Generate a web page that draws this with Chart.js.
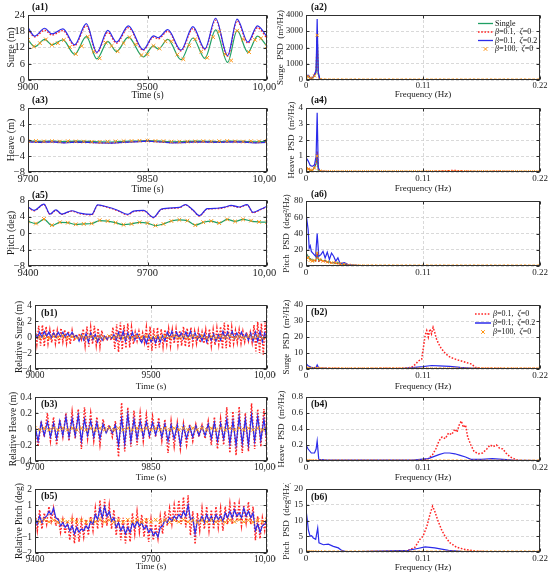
<!DOCTYPE html>
<html><head><meta charset="utf-8">
<script src="https://cdn.jsdelivr.net/npm/chart.js"></script>
<style>
html,body{margin:0;padding:0;background:#fff;}
#wrap{position:relative;width:550px;height:578px;overflow:hidden;background:#fff;}
canvas{position:absolute;}
</style></head><body><div id="wrap"></div>
<script>
// ---------------- tick values / labels ----------------
const tA1X=[9000,9500,10000], lA1X=['9000','9500','10,000'];
const tA3X=[9700,9850,10000], lA3X=['9700','9850','10,000'];
const tA5X=[9400,9700,10000], lA5X=['9400','9700','10,000'];
const tFX=[0,0.11,0.22], lFX=['0','0.11','0.22'];
const tA1Y=[0,6,12,18,24], lA1Y=['0','6','12','18','24'];
const tA3Y=[-8,-4,0,4,8], lA3Y=['\u22128','\u22124','0','4','8'];
const tA2Y=[0,1000,2000,3000,4000], lA2Y=['0','1000','2000','3000','4000'];
const tA4Y=[0,1,2,3,4], lA4Y=['0','1','2','3','4'];
const tA6Y=[0,20,40,60,80], lA6Y=['0','20','40','60','80'];
const tB1Y=[-4,-2,0,2,4], lB1Y=['\u22124','\u22122','0','2','4'];
const tB3Y=[-0.4,-0.2,0,0.2,0.4], lB3Y=['\u22120.4','\u22120.2','0','0.2','0.4'];
const tB5Y=[-2,-1,0,1,2], lB5Y=['\u22122','\u22121','0','1','2'];
const tB2Y=[0,10,20,30,40], lB2Y=['0','10','20','30','40'];
const tB4Y=[0,0.2,0.4,0.6,0.8], lB4Y=['0','0.2','0.4','0.6','0.8'];
const tB6Y=[0,5,10,15,20], lB6Y=['0','5','10','15','20'];

const legendAll=['Single','\u03b2=0.1,  \u03b6=0','\u03b2=0.1,  \u03b6=0.2','\u03b2=100,  \u03b6=0'];

// ---------------- (a1) surge ----------------
const a1T=[9000,9028,9070,9100,9146,9195,9244,9288,9334,9370,9420,9482,9525,9545,9585,9640,9690,9740,9785,9835,9875,9920,9960,10000];
const a1Blue=[19.3,16.2,19.1,17.0,18.9,13.0,20.8,10.2,18.3,14.0,20.0,11.2,16.3,15.6,18.6,11.0,19.7,11.5,22.8,9.0,22.5,14.0,20.0,16.0];
const a1Red=[18.7,15.9,18.4,16.6,18.2,12.7,20.0,10.0,17.6,13.6,19.3,11.0,15.8,15.2,18.0,10.7,19.0,11.2,22.1,8.8,21.8,13.6,19.3,15.4];
const a1Green=[14.8,12.3,15.0,13.0,14.8,9.5,16.0,7.8,14.2,10.5,15.8,8.5,12.6,11.4,15.0,7.5,15.5,8.0,18.5,6.5,18.2,10.2,16.2,12.5];
const a1OrangeStart=9000, a1OrangeStep=25;
const a1Orange=[14.8,12.4,13.6,15.0,13.0,13.6,14.8,12.2,9.6,12.5,16.0,10.5,8.0,13.8,12.6,10.6,13.6,15.8,13.2,9.2,9.5,12.6,11.6,14.3,14.3,9.4,7.7,12.8,15.1,10.5,8.2,15.8,17.9,9.5,7.2,18.2,15.0,10.3,14.8,15.4,12.5];

// ---------------- (a3) heave ----------------
const a3Start=9700, a3Step=15;
const a3Blue=[-0.5,-0.6,-0.45,-0.7,-0.55,-0.6,-0.75,-0.8,-0.6,-0.45,-0.3,-0.5,-0.7,-0.65,-0.5,-0.55,-0.6,-0.45,-0.55,-0.7,-0.6];
const a3Red=[-0.45,-0.55,-0.4,-0.65,-0.5,-0.55,-0.7,-0.75,-0.55,-0.4,-0.25,-0.45,-0.65,-0.6,-0.45,-0.5,-0.55,-0.4,-0.5,-0.65,-0.55];
const a3Green=[-0.3,-0.35,-0.25,-0.4,-0.3,-0.35,-0.45,-0.5,-0.35,-0.25,-0.15,-0.3,-0.45,-0.4,-0.3,-0.35,-0.4,-0.25,-0.35,-0.45,-0.35];
const a3OrangeStep=10;
const a3Orange=[-0.3,-0.25,-0.35,-0.3,-0.4,-0.3,-0.35,-0.4,-0.45,-0.5,-0.4,-0.35,-0.3,-0.25,-0.2,-0.15,-0.25,-0.3,-0.4,-0.45,-0.4,-0.35,-0.3,-0.35,-0.3,-0.25,-0.35,-0.4,-0.3,-0.35,-0.3];

// ---------------- (a5) pitch ----------------
const a5BlueT=[9400,9415,9440,9455,9470,9485,9510,9530,9560,9575,9600,9625,9650,9665,9690,9715,9735,9780,9795,9815,9830,9850,9875,9895,9910,9930,9950,9965,9985,10000];
const a5Blue=[6.3,5.5,7.0,4.6,5.6,4.6,5.4,4.8,4.5,6.8,6.3,5.5,4.5,5.3,5.5,3.8,5.8,6.2,6.9,5.5,4.2,5.9,6.0,6.3,6.7,6.3,6.9,5.0,5.8,6.5];
const a5Red=[6.2,5.4,6.9,4.5,5.5,4.5,5.3,4.7,4.4,6.7,6.2,5.4,4.4,5.2,5.4,3.7,5.7,6.1,6.8,5.4,4.1,5.8,5.9,6.2,6.6,6.2,6.8,4.9,5.7,6.4];
const a5Start=9400, a5Step=20;
const a5Green=[2.8,2.3,3.3,1.8,2.6,2.5,2.1,2.2,2.3,3.0,2.9,2.5,2.0,2.2,2.6,2.4,1.8,2.2,2.9,3.2,3.0,1.9,2.6,2.9,2.4,3.3,2.8,3.3,2.9,2.7,2.6];
const a5Orange=[2.8,2.3,3.4,1.9,2.6,2.5,2.1,2.2,2.3,3.1,2.9,2.5,2.0,2.2,2.6,2.4,1.8,2.2,2.9,3.2,3.0,1.9,2.6,2.9,2.4,3.3,2.8,3.3,3.0,2.7,2.6];

// ---------------- PSD marker frequencies (orange) ----------------
const freqMarks=[0,0.002,0.004,0.006,0.008,0.0105,0.013,0.016,0.02,0.024,0.028,0.032,0.036,0.04,0.044,0.048,0.052,0.056,0.06,0.064,0.068,0.072,0.076,0.08,0.084,0.088,0.092,0.096,0.1,0.104,0.108,0.112,0.116,0.12,0.124,0.128,0.132,0.136,0.14,0.144,0.148,0.152,0.156,0.16,0.164,0.168,0.172,0.176,0.18,0.184,0.188,0.192,0.196,0.2,0.204,0.208,0.212,0.216,0.22];

// ---------------- (a2) surge PSD ----------------
const a2F=[0,0.002,0.004,0.006,0.008,0.0095,0.0105,0.0115,0.013,0.015,0.02,0.05,0.1,0.15,0.22];
const a2Blue=[250,300,150,100,350,600,3750,500,50,20,5,2,1,1,0];
const a2Red=[200,250,120,80,300,500,2850,400,40,15,5,2,1,1,0];
const a2Green=[180,220,100,70,280,450,2800,380,30,10,4,2,1,1,0];
const a2Orange=[150,220,120,90,260,2750,30,10,5,3,2,1,1,0,0,0,0,0,0,0,0,0,0,0,0,0,0,0,0,0,0,0,0,0,0,0,0,0,0,0,0,0,0,0,0,0,0,0,0,0,0,0,0,0,0,0,0,0,0];

// ---------------- (a4) heave PSD ----------------
const a4F=[0,0.002,0.004,0.006,0.008,0.0095,0.0105,0.0115,0.013,0.02,0.05,0.1,0.12,0.13,0.14,0.15,0.16,0.18,0.22];
const a4Blue=[0.9,0.7,0.4,0.35,0.45,1.0,3.7,0.3,0.05,0.03,0.02,0.01,0.02,0.03,0.03,0.02,0.02,0.01,0.0];
const a4Red=[0.3,0.25,0.15,0.1,0.3,0.6,1.3,0.2,0.05,0.03,0.02,0.02,0.04,0.08,0.1,0.06,0.03,0.05,0.0];
const a4Green=[0.25,0.2,0.1,0.08,0.3,0.5,1.1,0.1,0.03,0.02,0.01,0.01,0.01,0.01,0.01,0.01,0.01,0.01,0];
const a4Orange=[0.2,0.18,0.12,0.08,0.25,1.0,0.05,0.03,0.02,0.02,0.02,0.02,0.02,0.02,0.02,0.02,0.02,0.02,0.02,0.02,0.02,0.02,0.02,0.02,0.02,0.02,0.02,0.02,0.02,0.02,0.02,0.02,0.02,0.02,0.02,0.02,0.02,0.02,0.02,0.02,0.02,0.02,0.02,0.02,0.02,0.02,0.02,0.02,0.02,0.02,0.02,0.02,0.02,0.02,0.02,0.02,0.02,0.02,0.02];

// ---------------- (a6) pitch PSD ----------------
const a6F=[0,0.002,0.003,0.004,0.005,0.007,0.009,0.0105,0.012,0.014,0.016,0.018,0.02,0.022,0.024,0.026,0.028,0.03,0.032,0.036,0.04,0.05,0.1,0.22];
const a6Blue=[65,45,22,25,18,15,12,40,12,14,18,10,17,8,16,12,6,10,3,4,1.5,0.5,0.2,0];
const a6Green=[16,12,10,9,8,7,6,15,6,8,6,7,5,5,4,4,3,4,3,2,1,0.5,0.2,0];
const a6Red=[15,11,9,8,7,6,6,14,6,7,6,6,5,4,4,4,3,3,2,2,1,0.5,0.2,0];
const a6Orange=[8,10,7,6,7,16,8,6,5,4,4,3,2,1,0.5,0.3,0.2,0.1,0.1,0.1,0,0,0,0,0,0,0,0,0,0,0,0,0,0,0,0,0,0,0,0,0,0,0,0,0,0,0,0,0,0,0,0,0,0,0,0,0,0,0];

// ---------------- (b1) relative surge ----------------
const b1RedStart=9000, b1RedStep=8;
const b1Red=[1.2,-0.9,1.4,-1.1,1.5,-1.2,1.3,-0.8,
 0.9,-0.7,1.0,-0.8,0.8,-0.9,1.1,-0.6,0.9,-0.8,0.7,-0.9,0.8,-0.5,
 0.3,-0.2,0.4,-0.3,
 1.0,-1.1,1.3,-1.2,1.2,-0.9,1.4,-1.0,1.1,-1.2,0.8,
 -0.3,0.2,-0.3,0.3,-0.4,
 1.2,-1.5,1.6,-1.9,1.8,-1.6,1.5,-1.4,1.7,-1.3,1.2,-0.9,
 0.6,-0.5,0.7,-0.6,0.5,-0.7,
 1.2,-1.6,1.3,-1.7,1.1,-1.4,1.2,-1.3,1.0,-1.2,0.9,
 -0.9,1.0,-1.1,0.9,-0.8,1.0,-1.0,0.8,
 -1.1,1.3,-1.2,1.1,-1.3,1.2,-0.9,
 0.7,-0.8,0.8,-0.7,0.6,-0.8,
 0.9,-1.0,1.0,-1.1,0.9,-1.0,1.1,-0.9,1.3,
 -1.5,1.8,-1.4,1.6,-1.3,1.2,
 -0.8,0.8,-0.7,0.9,-0.8,0.7,-0.6,
 0.6,-0.5,0.6,-0.7,
 1.5,-1.8,1.9,-2.0,1.7,-2.2,1.8,-1.5];
const b1BlueStart=9000, b1BlueStep=10;
const b1Blue=[0.7,-0.1,0.6,0.0,0.7,0.1,0.6,-0.1,0.5,0.0,0.6,0.1,0.6,0.0,0.5,0.1,0.6,0.0,
 0.2,-0.5,0.3,-0.4,0.4,-0.6,0.5,-0.3,0.3,-0.6,0.2,-0.4,
 0.1,-0.3,0.1,-0.2,0.3,
 -0.4,0.6,-0.3,0.7,-0.5,0.5,-0.3,0.6,-0.4,0.4,-0.2,
 -0.7,0.1,-0.8,0.2,-0.6,0.0,-0.7,0.1,-0.6,0.2,-0.5,
 0.6,-0.1,0.7,-0.2,0.6,-0.1,0.5,-0.2,0.6,-0.1,0.7,-0.2,0.5,-0.3,
 0.3,-0.5,0.4,-0.6,0.3,-0.4,0.4,-0.5,0.3,-0.4,
 0.7,-0.2,0.6,-0.1,0.7,-0.2,0.5,-0.1,0.6,-0.2,
 0.4,-0.4,0.5,-0.5,0.6,-0.5,0.7,-0.6,0.5,-0.3];
const b1OrangeStart=9000, b1OrangeStep=20;
const b1Orange=[0.1,-0.1,0.05,-0.15,0.1,-0.05,0.15,-0.1,0.05,-0.1,0.1,-0.05,0.1,-0.15,0.05,-0.1,0.1,-0.05,0.15,-0.1,0.05,-0.1,0.1,-0.05,0.1,-0.15,0.05,-0.1,0.1,-0.05,0.15,-0.1,0.05,-0.1,0.1,-0.05,0.1,-0.15,0.05,-0.1,0.1,-0.05,0.15,-0.1,0.05,-0.1,0.1,-0.05,0.1,-0.15,0.05];

// ---------------- (b3) relative heave ----------------
const b3Start=9700, b3Step=4;
const b3Red=[0.05,-0.22,0.1,-0.1,0.2,-0.15,0.15,-0.2,0.12,-0.1,0.2,-0.15,0.22,-0.12,0.25,-0.25,0.27,-0.12,0.2,-0.15,0.15,-0.2,0.12,-0.05,0.05,-0.1,0.1,-0.35,0.33,-0.28,0.27,-0.22,0.23,-0.2,0.2,-0.15,0.18,-0.12,0.16,-0.1,0.14,-0.15,0.12,-0.3,0.1,-0.22,0.08,-0.25,0.07,-0.2,0.06,-0.15,0.06,-0.1,0.05,-0.12,0.1,-0.2,0.15,-0.25,0.13,-0.2,0.27,-0.3,0.22,-0.33,0.28,-0.3,0.2,-0.28,0.32,-0.25,0.25,-0.22,0.25,-0.3];
const b3Blue=[0.04,-0.15,0.08,-0.08,0.09,-0.1,0.07,-0.12,0.1,-0.08,0.15,-0.1,0.13,-0.08,0.17,-0.15,0.12,-0.08,0.1,-0.1,0.08,-0.12,0.06,-0.05,0.03,-0.05,0.05,-0.2,0.13,-0.18,0.18,-0.15,0.12,-0.12,0.1,-0.1,0.09,-0.08,0.08,-0.07,0.07,-0.1,0.06,-0.15,0.05,-0.12,0.05,-0.2,0.04,-0.12,0.03,-0.1,0.04,-0.08,0.03,-0.08,0.06,-0.12,0.08,-0.15,0.07,-0.12,0.12,-0.18,0.1,-0.2,0.15,-0.18,0.12,-0.2,0.17,-0.15,0.15,-0.14,0.12,-0.15];
const b3OrangeStep=6;
const b3Orange=[0.01,-0.01,0.01,-0.01,0.01,-0.01,0.01,-0.01,0.01,-0.01,0.01,-0.01,0.01,-0.01,0.01,-0.01,0.01,-0.01,0.01,-0.01,0.01,-0.01,0.01,-0.01,0.01,-0.01,0.01,-0.01,0.01,-0.01,0.01,-0.01,0.01,-0.01,0.01,-0.01,0.01,-0.01,0.01,-0.01,0.01,-0.01,0.01,-0.01,0.01,-0.01,0.01,-0.01,0.01,-0.01,0.01];

// ---------------- (b5) relative pitch ----------------
const b5Start=9400, b5Step=6;
const b5Red=[0.6,-0.6,0.7,-0.5,0.5,
 -0.2,0.9,0.0,0.8,
 -0.3,0.2,-0.7,0.1,-0.8,0.0,
 -1.2,0.1,-1.4,0.2,-1.3,0.0,-1.0,0.1,-0.9,
 0.3,-0.6,0.8,-0.5,1.3,-0.4,1.35,-0.3,1.0,
 -0.5,0.7,-0.9,0.3,-1.2,0.2,-1.4,0.1,-1.3,
 0.5,-0.8,0.6,-0.7,0.4,-1.0,0.2,
 -1.3,0.1,-1.2,-0.2,-1.1,0.3,-0.8,0.6,
 -0.3,0.8,-0.2,1.0,-0.1,1.3,-0.2,1.5,
 -0.4,1.6,-0.9,0.6,-1.45,0.5,
 -0.6,0.8,-0.5,0.9,-0.6,0.7,-0.5,0.9,-0.4,0.8,-0.6,0.9,
 -0.2,1.1,-0.2,1.2,0.0,1.1,-0.3,1.0,-0.1,1.2,-0.2,0.9,
 -1.2,0.3,-1.1,0.2,-0.6,0.5];
const b5Blue=[0.2,-0.2,0.3,-0.1,0.2,
 0.3,0.6,0.4,0.8,
 0.2,0.1,-0.3,-0.1,-0.4,-0.2,
 -0.6,-0.3,-0.8,-0.4,-0.7,-0.5,-0.6,-0.3,-0.5,
 0.0,-0.2,0.4,0.1,0.8,0.2,0.9,0.3,0.6,
 0.0,0.2,-0.4,-0.1,-0.6,-0.3,-0.8,-0.4,-0.7,
 -0.1,-0.4,0.0,-0.3,-0.1,-0.5,-0.3,
 -0.7,-0.5,-0.9,-0.7,-1.0,-0.4,-0.3,0.1,
 -0.1,0.2,0.0,0.3,0.1,0.4,0.2,0.6,
 0.3,1.0,0.1,0.2,-0.8,0.0,
 0.0,0.3,-0.1,0.4,0.0,0.3,-0.1,0.4,0.1,0.3,0.0,0.5,
 0.2,0.6,0.2,0.7,0.3,0.5,0.2,0.8,0.3,0.6,0.2,0.5,
 -0.6,-0.2,-0.7,-0.3,-0.2,0.1];
const b5OrangeStep=12;
const b5Orange=[0.05,-0.05,0.08,-0.05,0.05,-0.08,0.05,-0.05,0.08,-0.05,0.05,-0.08,0.05,-0.05,0.08,-0.05,0.05,-0.08,0.05,-0.05,0.08,-0.05,0.05,-0.08,0.05,-0.05,0.08,-0.05,0.05,-0.08,0.05,-0.05,0.08,-0.05,0.05,-0.08,0.05,-0.05,0.08,-0.05,0.05,-0.08,0.05,-0.05,0.08,-0.05,0.05,-0.08,0.05,-0.05,0.05];

// ---------------- (b2) surge PSD ----------------
const b2RedF=[0,0.01,0.05,0.09,0.0993,0.103,0.1056,0.1087,0.1105,0.112,0.1135,0.115,0.1165,0.118,0.1195,0.121,0.1225,0.1245,0.127,0.1307,0.134,0.137,0.141,0.146,0.151,0.156,0.159,0.165,0.2,0.22];
const b2Red=[0.5,0.5,0.3,0.5,1,3,5,6,14,21,24,20,25,22,26,23,19,16,13,10,8,7,6,5,4,3,1,0.5,0.3,0.3];
const b2BlueF=[0,0.002,0.005,0.008,0.0095,0.0105,0.012,0.02,0.05,0.09,0.1,0.11,0.118,0.125,0.135,0.145,0.155,0.165,0.22];
const b2Blue=[3.5,2,1,0.8,1,2.5,0.6,0.4,0.3,0.3,0.8,1.5,2.2,2.0,1.6,1.0,0.6,0.3,0.2];
const b2Orange=[0.5,0.4,0.3,0.3,0.3,0.4,0.2,0.2,0.1,0.1,0.1,0.1,0.1,0.1,0.1,0.1,0.1,0.1,0.1,0.1,0.1,0.1,0.1,0.1,0.1,0.1,0.1,0.1,0.1,0.1,0.1,0.1,0.1,0.1,0.1,0.1,0.1,0.1,0.1,0.1,0.1,0.1,0.1,0.1,0.1,0.1,0.1,0.1,0.1,0.1,0.1,0.1,0.1,0.1,0.1,0.1,0.1,0.1,0.1];

// ---------------- (b4) heave PSD ----------------
const b4RedF=[0,0.05,0.1,0.11,0.115,0.119,0.122,0.125,0.128,0.131,0.134,0.137,0.14,0.142,0.144,0.146,0.148,0.15,0.152,0.155,0.158,0.162,0.166,0.17,0.173,0.176,0.179,0.182,0.185,0.188,0.192,0.197,0.2,0.22];
const b4Red=[0.005,0.005,0.005,0.01,0.03,0.08,0.15,0.25,0.3,0.28,0.35,0.33,0.4,0.36,0.45,0.5,0.42,0.45,0.3,0.2,0.12,0.09,0.1,0.15,0.2,0.18,0.2,0.16,0.15,0.1,0.05,0.02,0.005,0];
const b4BlueF=[0,0.002,0.005,0.008,0.0095,0.0105,0.012,0.02,0.05,0.1,0.115,0.125,0.13,0.135,0.14,0.145,0.15,0.155,0.165,0.175,0.185,0.195,0.22];
const b4Blue=[0.2,0.15,0.1,0.1,0.15,0.25,0.02,0.01,0.01,0.01,0.03,0.08,0.1,0.1,0.09,0.07,0.05,0.02,0.02,0.03,0.02,0.01,0.005];
const b4Orange=[0,0,0,0,0,0,0,0,0,0,0,0,0,0,0,0,0,0,0,0,0,0,0,0,0,0,0,0,0,0,0,0,0,0,0,0,0,0,0,0,0,0,0,0,0,0,0,0,0,0,0,0,0,0,0,0,0,0,0];

// ---------------- (b6) pitch PSD ----------------
const b6BlueF=[0,0.0013,0.0022,0.0038,0.0053,0.0069,0.0091,0.011,0.0122,0.0163,0.021,0.0257,0.0304,0.0335,0.0367,0.05,0.096,0.105,0.112,0.121,0.134,0.146,0.16,0.22];
const b6Blue=[13.4,10,7,5,5.2,4.4,4,7.6,2.9,2.3,2.5,1.8,1.3,0.5,0.2,0.1,0.5,1.1,1.6,1.3,0.5,0.2,0.1,0.1];
const b6RedF=[0,0.05,0.09,0.096,0.1025,0.107,0.11,0.1135,0.1166,0.119,0.121,0.124,0.1275,0.1307,0.135,0.1416,0.1495,0.159,0.17,0.22];
const b6Red=[0.1,0.1,0.2,0.5,1.5,4,5,8,12,14.5,13,10,7,5,3,1.5,0.8,0.3,0.1,0.1];
const b6Orange=[0,0,0,0,0,0,0,0,0,0,0,0,0,0,0,0,0,0,0,0,0,0,0,0,0,0,0,0,0,0,0,0,0,0,0,0,0,0,0,0,0,0,0,0,0,0,0,0,0,0,0,0,0,0,0,0,0,0,0];

// ================= rendering =================
const wrap=document.getElementById('wrap');
const FONT='"Liberation Serif","Times New Roman",Times,serif';
const GREEN='#1f9f63', RED='#ff2424', BLUE='#2b2bea', ORANGE='#ff9412';

function xy(xs,ys){return ys.map((y,i)=>({x:xs[i],y:y}));}
function seq(t0,dt,ys){return ys.map((y,i)=>({x:t0+i*dt,y:y}));}
function line(data,color,extra){return Object.assign({data:data,borderColor:color,backgroundColor:color,borderWidth:1.2,pointRadius:0,pointHoverRadius:0,fill:false,tension:0},extra||{});}
function dotted(data,extra){return line(data,RED,Object.assign({borderDash:[1.6,1.6],borderWidth:1.3},extra||{}));}
function marks(data,r){return {data:data,showLine:false,pointStyle:'crossRot',pointRadius:r||2.6,pointHoverRadius:0,pointBorderWidth:1,pointBorderColor:ORANGE,pointBackgroundColor:ORANGE,borderColor:ORANGE,backgroundColor:ORANGE};}
const smooth={cubicInterpolationMode:'monotone'};

function drawRich(ctx,text,x,y,size){
  ctx.textBaseline='middle';ctx.textAlign='left';ctx.fillStyle='#111';
  for(const ch of text){const it=/[\u03b2\u03b6]/.test(ch);ctx.font=(it?'italic ':'')+size+'px '+FONT;ctx.fillText(ch,x,y);x+=ctx.measureText(ch).width;}
}
function drawCross(ctx,x,y,r){ctx.strokeStyle=ORANGE;ctx.lineWidth=1;ctx.setLineDash([]);ctx.beginPath();ctx.moveTo(x-r*0.7,y-r*0.7);ctx.lineTo(x+r*0.7,y+r*0.7);ctx.moveTo(x+r*0.7,y-r*0.7);ctx.lineTo(x-r*0.7,y+r*0.7);ctx.stroke();}

function panel(p){
  const tk=p.tk||9, xs=p.xs||9, ys=p.ys||9;
  const xlh=xs*1.2, ylh=ys*1.2;
  const bottom = p.xTitle ? p.xTitleY+xlh/2+1 : p.b+16;
  const cw=p.cw, ch=Math.round(bottom-p.cy);
  const cv=document.createElement('canvas');
  cv.width=cw;cv.height=ch;cv.style.left=p.cx+'px';cv.style.top=p.cy+'px';cv.style.width=cw+'px';cv.style.height=ch+'px';
  wrap.appendChild(cv);
  const T=p.t-p.cy, R=p.cx+cw-p.r, B=p.cy+ch-p.b, Lw=p.l-p.cx;
  const xPad=Math.max(0,(p.cy+ch-(p.xTitleY||0))-xlh/2);
  const yPad=Math.max(0,(p.yTitleX-p.cx)-ylh/2);
  const deco={id:'deco',afterDatasetsDraw(chart){
    const ctx=chart.ctx,a=chart.chartArea,sx=chart.scales.x,sy=chart.scales.y;
    ctx.save();
    ctx.strokeStyle='#303030';ctx.lineWidth=1;ctx.setLineDash([]);
    const L=Math.round(a.left)+0.5,Tp=Math.round(a.top)+0.5,Rr=Math.round(a.right)-0.5,Bt=Math.round(a.bottom)-0.5;
    ctx.strokeRect(L,Tp,Rr-L,Bt-Tp);
    ctx.beginPath();
    p.xTicks.forEach(v=>{const x=Math.round(sx.getPixelForValue(v))+0.5;ctx.moveTo(x,Bt);ctx.lineTo(x,Bt-3);ctx.moveTo(x,Tp);ctx.lineTo(x,Tp+3);});
    p.yTicks.forEach(v=>{const y=Math.round(sy.getPixelForValue(v))+0.5;ctx.moveTo(L,y);ctx.lineTo(L+3,y);ctx.moveTo(Rr,y);ctx.lineTo(Rr-3,y);});
    ctx.stroke();
    ctx.font='bold 9.5px '+FONT;ctx.fillStyle='#111';ctx.textBaseline='middle';ctx.textAlign='left';
    ctx.fillText(p.label,p.labelX-p.cx,p.labelY-p.cy);
    if(p.legend){
      p.legend.forEach(it=>{
        const y=it.y-p.cy,x0=p.lgX0-p.cx,x1=p.lgX1-p.cx;
        if(it.kind==='mark'){drawCross(ctx,(x0+x1)/2,y,2.6);}
        else{ctx.strokeStyle=it.color;ctx.lineWidth=it.w||1.3;ctx.setLineDash(it.dash||[]);ctx.beginPath();ctx.moveTo(x0,y);ctx.lineTo(x1,y);ctx.stroke();ctx.setLineDash([]);}
        drawRich(ctx,it.text,p.lgTX-p.cx,y,8);
      });
    }
    ctx.restore();
  }};
  new Chart(cv,{
    type:'line',
    data:{datasets:p.datasets},
    options:{
      responsive:false,animation:false,events:[],
      layout:{padding:{left:0,top:T,right:R,bottom:0}},
      plugins:{legend:{display:false},tooltip:{enabled:false}},
      scales:{
        x:{type:'linear',min:p.xMin,max:p.xMax,
          afterBuildTicks:s=>{s.ticks=p.xTicks.map(v=>({value:v}));},
          afterFit:s=>{s.height=B;s.paddingLeft=0;s.paddingRight=0;},
          ticks:{autoSkip:false,maxRotation:0,padding:1,color:'#1a1a1a',font:{family:FONT,size:tk},callback:(v,i)=>p.xLabels[i]},
          grid:{drawTicks:false,color:'#cfcfcf',lineWidth:0.8},
          border:{display:false,dash:[3,2]},
          title:{display:!!p.xTitle,text:p.xTitle||'',color:'#1a1a1a',font:{family:FONT,size:xs},padding:{top:0,bottom:xPad}}
        },
        y:{type:'linear',min:p.yMin,max:p.yMax,
          afterBuildTicks:s=>{s.ticks=p.yTicks.map(v=>({value:v}));},
          afterFit:s=>{s.width=Lw;s.paddingTop=0;s.paddingBottom=0;},
          ticks:{autoSkip:false,padding:3,color:'#1a1a1a',font:{family:FONT,size:tk},callback:(v,i)=>p.yLabels[i]},
          grid:{drawTicks:false,color:'#cfcfcf',lineWidth:0.8},
          border:{display:false,dash:[3,2]},
          title:{display:true,text:p.yTitle,color:'#1a1a1a',font:{family:FONT,size:ys},padding:{top:yPad,bottom:0}}
        }
      }
    },
    plugins:[deco]
  });
}

const LA={cx:0,cw:276,tk:10.5,xs:9.5,ys:10}, LB={cx:0,cw:276,tk:9.5,xs:9,ys:9.5}, RC={cx:274,cw:276,tk:9,xs:9,ys:9};
const XT='Time (s)', XF='Frequency (Hz)';

// (a1)
panel(Object.assign({},LA,{cy:0,l:28,t:15,r:267,b:80,xMin:9000,xMax:10000,xTicks:tA1X,xLabels:lA1X,yMin:0,yMax:24,yTicks:tA1Y,yLabels:lA1Y,
  xTitle:XT,xTitleY:95,yTitle:'Surge (m)',yTitleX:11,label:'(a1)',labelX:32,labelY:8,
  datasets:[marks(seq(a1OrangeStart,a1OrangeStep,a1Orange)),line(xy(a1T,a1Blue),BLUE,smooth),dotted(xy(a1T,a1Red),smooth),line(xy(a1T,a1Green),GREEN,smooth)]}));
// (a2)
panel(Object.assign({},RC,{cy:0,l:306,t:15,r:540,b:80,xMin:0,xMax:0.22,xTicks:tFX,xLabels:lFX,yMin:0,yMax:4000,yTicks:tA2Y,yLabels:lA2Y,tk:8.5,
  xTitle:XF,xTitleY:95,yTitle:'Surge  PSD  (m\u00b2/Hz)',yTitleX:281,label:'(a2)',labelX:311,labelY:8,
  datasets:[marks(xy(freqMarks,a2Orange),2.2),line(xy(a2F,a2Blue),BLUE),dotted(xy(a2F,a2Red)),line(xy(a2F,a2Green),GREEN)],
  lgX0:478,lgX1:493,lgTX:495,
  legend:[{kind:'line',color:GREEN,text:legendAll[0],y:23.5},{kind:'line',color:RED,dash:[1.6,1.6],text:legendAll[1],y:32},{kind:'line',color:BLUE,text:legendAll[2],y:40.5},{kind:'mark',text:legendAll[3],y:49}]}));
// (a3)
panel(Object.assign({},LA,{cy:96,l:28,t:108,r:267,b:172,xMin:9700,xMax:10000,xTicks:tA3X,xLabels:lA3X,yMin:-8,yMax:8,yTicks:tA3Y,yLabels:lA3Y,
  xTitle:XT,xTitleY:189,yTitle:'Heave (m)',yTitleX:11,label:'(a3)',labelX:32,labelY:101,
  datasets:[marks(seq(a3Start,a3OrangeStep,a3Orange)),line(seq(a3Start,a3Step,a3Blue),BLUE),dotted(seq(a3Start,a3Step,a3Red)),line(seq(a3Start,a3Step,a3Green),GREEN)]}));
// (a4)
panel(Object.assign({},RC,{cy:96,l:306,t:108,r:540,b:172,xMin:0,xMax:0.22,xTicks:tFX,xLabels:lFX,yMin:0,yMax:4,yTicks:tA4Y,yLabels:lA4Y,
  xTitle:XF,xTitleY:189,yTitle:'Heave  PSD  (m\u00b2/Hz)',yTitleX:292,label:'(a4)',labelX:311,labelY:101,
  datasets:[marks(xy(freqMarks,a4Orange),2.2),line(xy(a4F,a4Blue),BLUE),dotted(xy(a4F,a4Red)),line(xy(a4F,a4Green),GREEN)]}));
// (a5)
panel(Object.assign({},LA,{cy:190,l:28,t:200,r:267,b:266,xMin:9400,xMax:10000,xTicks:tA5X,xLabels:lA5X,yMin:-8,yMax:8,yTicks:tA3Y,yLabels:lA3Y,
  yTitle:'Pitch (deg)',yTitleX:11,label:'(a5)',labelX:32,labelY:196,
  datasets:[marks(seq(a5Start,a5Step,a5Orange)),line(xy(a5BlueT,a5Blue),BLUE,smooth),dotted(xy(a5BlueT,a5Red),smooth),line(seq(a5Start,a5Step,a5Green),GREEN,smooth)]}));
// (a6)
panel(Object.assign({},RC,{cy:190,l:306,t:201,r:540,b:266,xMin:0,xMax:0.22,xTicks:tFX,xLabels:lFX,yMin:0,yMax:80,yTicks:tA6Y,yLabels:lA6Y,
  yTitle:'Pitch  PSD  (deg\u00b2/Hz)',yTitleX:287,label:'(a6)',labelX:311,labelY:195,
  datasets:[marks(xy(freqMarks,a6Orange),2.2),line(xy(a6F,a6Blue),BLUE),dotted(xy(a6F,a6Red)),line(xy(a6F,a6Green),GREEN)]}));
// (b1)
panel(Object.assign({},LB,{cy:290,l:35,t:305,r:267,b:369,xMin:9000,xMax:10000,xTicks:tA1X,xLabels:lA1X,yMin:-4,yMax:4,yTicks:tB1Y,yLabels:lB1Y,
  xTitle:XT,xTitleY:387,yTitle:'Relative Surge (m)',yTitleX:19,label:'(b1)',labelX:41,labelY:314,
  datasets:[marks(seq(b1OrangeStart,b1OrangeStep,b1Orange)),line(seq(b1BlueStart,b1BlueStep,b1Blue),BLUE),dotted(seq(b1RedStart,b1RedStep,b1Red),{borderWidth:1.5})]}));
// (b2)
panel(Object.assign({},RC,{cy:290,l:306,t:305,r:540,b:369,xMin:0,xMax:0.22,xTicks:tFX,xLabels:lFX,yMin:0,yMax:40,yTicks:tB2Y,yLabels:lB2Y,
  xTitle:XF,xTitleY:387,yTitle:'Surge  PSD  (m\u00b2/Hz)',yTitleX:287,label:'(b2)',labelX:311,labelY:313,
  datasets:[marks(xy(freqMarks,b2Orange),2.2),line(xy(b2BlueF,b2Blue),BLUE),dotted(xy(b2RedF,b2Red),{borderWidth:1.5})],
  lgX0:475,lgX1:491,lgTX:493,
  legend:[{kind:'line',color:RED,dash:[1.6,1.6],w:1.5,text:legendAll[1],y:314},{kind:'line',color:BLUE,w:1.5,text:legendAll[2],y:323},{kind:'mark',text:legendAll[3],y:332}]}));
// (b3)
panel(Object.assign({},LB,{cy:390,l:35,t:397,r:267,b:461,xMin:9700,xMax:10000,xTicks:tA3X,xLabels:lA3X,yMin:-0.4,yMax:0.4,yTicks:tB3Y,yLabels:lB3Y,
  xTitle:XT,xTitleY:478,yTitle:'Relative Heave (m)',yTitleX:13,label:'(b3)',labelX:41,labelY:405,
  datasets:[marks(seq(b3Start,b3OrangeStep,b3Orange)),line(seq(b3Start,b3Step,b3Blue),BLUE),dotted(seq(b3Start,b3Step,b3Red),{borderWidth:1.5})]}));
// (b4)
panel(Object.assign({},RC,{cy:390,l:306,t:397,r:540,b:461,xMin:0,xMax:0.22,xTicks:tFX,xLabels:lFX,yMin:0,yMax:0.8,yTicks:tB4Y,yLabels:lB4Y,
  xTitle:XF,xTitleY:478,yTitle:'Heave  PSD  (m\u00b2/Hz)',yTitleX:282,label:'(b4)',labelX:311,labelY:405,
  datasets:[marks(xy(freqMarks,b4Orange),2.2),line(xy(b4BlueF,b4Blue),BLUE),dotted(xy(b4RedF,b4Red),{borderWidth:1.5})]}));
// (b5)
panel(Object.assign({},LB,{cy:483,l:35,t:489,r:267,b:553,xMin:9400,xMax:10000,xTicks:tA5X,xLabels:lA5X,yMin:-2,yMax:2,yTicks:tB5Y,yLabels:lB5Y,
  xTitle:XT,xTitleY:567,yTitle:'Relative Pitch (deg)',yTitleX:19,label:'(b5)',labelX:41,labelY:497,
  datasets:[marks(seq(b5Start,b5OrangeStep,b5Orange)),line(seq(b5Start,b5Step,b5Blue),BLUE),dotted(seq(b5Start,b5Step,b5Red),{borderWidth:1.5})]}));
// (b6)
panel(Object.assign({},RC,{cy:483,l:306,t:489,r:540,b:552,xMin:0,xMax:0.22,xTicks:tFX,xLabels:lFX,yMin:0,yMax:20,yTicks:tB6Y,yLabels:lB6Y,
  xTitle:XF,xTitleY:568,yTitle:'Pitch  PSD  (deg\u00b2/Hz)',yTitleX:287,label:'(b6)',labelX:311,labelY:498,
  datasets:[marks(xy(freqMarks,b6Orange),2.2),line(xy(b6BlueF,b6Blue),BLUE),dotted(xy(b6RedF,b6Red),{borderWidth:1.5})]}));
</script></body></html>
